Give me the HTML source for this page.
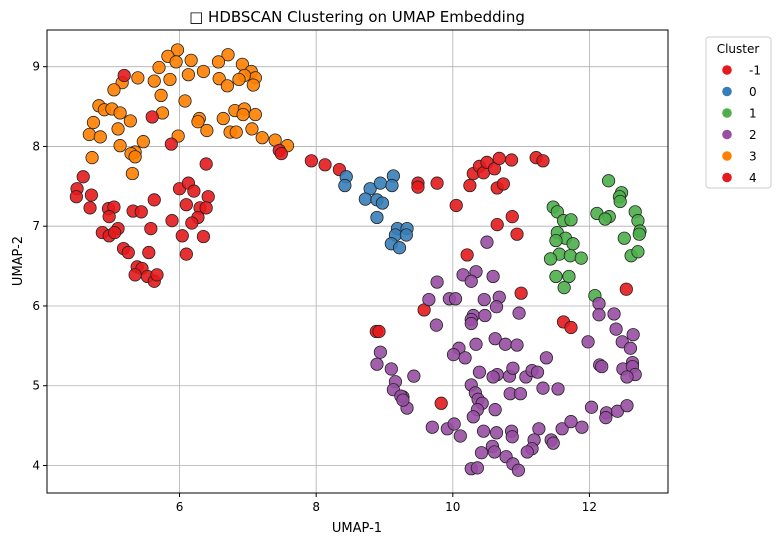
<!DOCTYPE html>
<html><head><meta charset="utf-8">
<style>
html,body{margin:0;padding:0;background:#fff;}
svg{display:block;font-family:"DejaVu Sans","Liberation Sans","Noto Sans CJK SC",sans-serif;}
</style></head>
<body>
<svg id="chart" width="779" height="545" viewBox="0 0 779 545">
<text x="357" y="22" text-anchor="middle" font-size="15">□ HDBSCAN Clustering on UMAP Embedding</text>
<g id="grid"></g>
<g id="pts"></g>
<rect x="47" y="30" width="621" height="463" fill="none" stroke="#000" stroke-width="1"/>
<g id="axes"></g>
<text x="357" y="532" text-anchor="middle" font-size="13">UMAP-1</text>
<text x="0" y="0" transform="translate(22,261) rotate(-90)" text-anchor="middle" font-size="13">UMAP-2</text>
<g id="legend"></g>
</svg>
<script>
const clusterLabels = ["-1","0","1","2","3","4"];
const clusterColors = ["#e41a1c","#377eb8","#4daf4a","#984ea3","#ff7f00","#e41a1c"];
const xTicks = [6,8,10,12];
const yTicks = [4,5,6,7,8,9];
const orangeX=[5.97,5.83,5.95,6.17,6.71,6.57,6.92,7.05,7.11,7.08,6.95,6.87,6.58,6.70,6.35,6.13,5.86,5.63,5.70,5.39,5.16,5.04,5.73,6.08,5.75,4.82,4.90,5.01,5.13,5.28,4.74,4.68,4.84,5.10,5.13,5.47,5.35,5.29,5.35,4.72,5.31,5.98,6.29,6.27,6.40,6.64,6.81,6.95,6.93,7.11,6.74,6.83,7.06,7.21,7.40,7.58];
const orangeY=[9.21,9.13,9.06,9.08,9.15,9.06,9.03,8.94,8.86,8.77,8.89,8.84,8.85,8.76,8.94,8.90,8.84,8.82,8.99,8.86,8.80,8.71,8.64,8.57,8.42,8.51,8.46,8.47,8.42,8.32,8.30,8.15,8.12,8.22,8.01,8.06,7.93,7.91,7.87,7.86,7.66,8.13,8.35,8.31,8.20,8.35,8.45,8.47,8.40,8.40,8.18,8.18,8.22,8.11,8.08,8.01];
const redX=[5.19,5.60,5.88,7.46,7.49,7.93,6.39,4.59,4.50,4.49,4.71,4.69,4.96,5.04,4.97,5.32,5.44,5.63,6.00,6.13,6.21,6.42,6.10,6.30,6.39,6.27,6.18,5.89,5.58,5.10,4.87,4.97,5.05,6.04,6.35,5.18,5.25,5.55,6.10,5.38,5.45,5.35,5.53,5.63,5.67,8.13,8.34,9.49,9.49,9.77,10.05,10.25,10.30,10.39,10.45,10.50,10.61,10.68,10.86,10.65,10.74,11.22,11.32,10.87,10.65,10.94,10.21,11.00,12.54,11.62,11.73,9.58,8.88,8.92,9.83];
const redY=[8.89,8.37,8.03,7.95,7.91,7.82,7.78,7.62,7.47,7.37,7.39,7.23,7.22,7.24,7.12,7.19,7.18,7.33,7.47,7.54,7.44,7.37,7.27,7.23,7.23,7.11,7.04,7.07,6.97,6.97,6.92,6.88,6.92,6.88,6.87,6.72,6.67,6.67,6.65,6.49,6.47,6.39,6.37,6.31,6.39,7.77,7.71,7.54,7.49,7.54,7.26,7.51,7.66,7.75,7.67,7.80,7.72,7.85,7.83,7.48,7.53,7.86,7.82,7.12,7.02,6.90,6.64,6.16,6.21,5.80,5.73,5.95,5.68,5.68,4.78];
const blueX=[8.44,8.42,8.79,8.94,9.13,9.11,8.72,8.89,8.97,8.89,9.19,9.33,9.16,9.32,9.10,9.22];
const blueY=[7.62,7.51,7.47,7.54,7.63,7.51,7.34,7.33,7.29,7.11,6.97,6.97,6.89,6.89,6.78,6.73];
const greenX=[12.28,12.47,12.44,12.45,11.47,11.53,12.11,12.29,12.23,12.67,12.71,12.74,12.73,11.62,11.73,11.53,11.65,11.51,11.76,12.51,11.56,11.72,11.88,11.43,12.61,12.71,11.51,11.70,11.63,12.08];
const greenY=[7.57,7.42,7.37,7.31,7.24,7.18,7.16,7.12,7.09,7.18,7.07,6.94,6.90,7.07,7.08,6.92,6.85,6.82,6.78,6.85,6.65,6.63,6.60,6.59,6.63,6.68,6.37,6.37,6.23,6.13];
const purpleX=[10.50,10.15,10.34,10.27,10.59,9.77,9.65,9.95,10.04,10.46,10.68,10.64,10.97,10.30,10.27,10.27,10.47,9.76,10.34,10.62,10.77,10.94,10.09,10.01,10.18,11.37,11.98,12.14,12.14,12.36,12.39,12.48,12.64,12.60,12.15,12.18,12.63,12.49,12.63,12.67,12.55,9.43,10.39,10.65,10.59,10.83,10.88,11.07,11.16,11.24,11.32,11.54,10.27,10.33,10.37,10.43,10.36,10.30,10.62,10.84,10.99,9.27,9.33,12.03,12.25,12.24,12.41,12.55,9.70,9.92,10.02,10.11,10.45,10.64,10.86,10.87,11.26,11.60,11.73,11.89,11.19,11.16,11.09,11.44,11.47,10.58,10.61,10.42,10.78,10.88,10.96,10.27,10.36,8.94,8.89,9.10,9.16,9.13,9.24,9.27];
const purpleY=[6.80,6.39,6.43,6.31,6.37,6.30,6.08,6.09,6.09,6.08,6.11,5.99,5.91,5.88,5.83,5.78,5.88,5.76,5.52,5.59,5.52,5.51,5.47,5.39,5.35,5.35,5.55,6.03,5.89,5.90,5.71,5.55,5.64,5.47,5.26,5.24,5.29,5.21,5.24,5.14,5.11,5.12,5.17,5.14,5.11,5.12,5.22,5.11,5.19,5.17,4.97,4.96,5.01,4.91,4.83,4.78,4.70,4.61,4.70,4.90,4.90,4.86,4.72,4.73,4.66,4.60,4.68,4.75,4.48,4.46,4.52,4.37,4.43,4.41,4.43,4.36,4.46,4.46,4.55,4.48,4.32,4.21,4.17,4.32,4.28,4.24,4.17,4.16,4.11,4.02,3.94,3.96,3.97,5.42,5.27,5.21,5.05,4.95,4.87,4.82];

const NS="http://www.w3.org/2000/svg";
const L=47,R=668,T=30,B=493;
const xMin=4.06,xMax=13.15,yMin=3.655,yMax=9.46;
function sx(v){return L+(v-xMin)/(xMax-xMin)*(R-L);}
function sy(v){return B-(v-yMin)/(yMax-yMin)*(B-T);}
function mk(tag,attrs,parent){const e=document.createElementNS(NS,tag);for(const k in attrs)e.setAttribute(k,attrs[k]);parent.appendChild(e);return e;}
const grid=document.getElementById('grid'),axes=document.getElementById('axes'),pts=document.getElementById('pts'),leg=document.getElementById('legend');
xTicks.forEach(t=>{const x=sx(t);
 const g=mk('line',{x1:x,x2:x,y1:T,y2:B,stroke:'#b0b0b0','stroke-width':0.8},grid);
 
 
 const tk=mk('line',{x1:x,x2:x,y1:B,y2:B+4,stroke:'#000'},axes);
 
 
 const tx=mk('text',{x:x,y:B+18,'text-anchor':'middle','font-size':12},axes);tx.textContent=t;
 
 
});
yTicks.forEach(t=>{const y=sy(t);
 const g=mk('line',{x1:L,x2:R,y1:y,y2:y,stroke:'#b0b0b0','stroke-width':0.8},grid);
 
 
 const tk=mk('line',{x1:L-4,x2:L,y1:y,y2:y,stroke:'#000'},axes);
 
 
 const tx=mk('text',{x:L-7,y:y+4,'text-anchor':'end','font-size':12},axes);tx.textContent=t;
 
 
});
function drawSeries(xs,ys,color,name){
 for(let i=0;i<xs.length;i++){
  const c=mk('circle',{cx:sx(xs[i]),cy:sy(ys[i]),r:6.2,fill:color,'fill-opacity':0.9,stroke:'#222','stroke-width':0.8},pts);
  
  
 }
}
drawSeries(orangeX,orangeY,clusterColors[4],'point-cluster-3');
drawSeries(redX,redY,clusterColors[0],'point-cluster-noise');
drawSeries(blueX,blueY,clusterColors[1],'point-cluster-0');
drawSeries(greenX,greenY,clusterColors[2],'point-cluster-1');
drawSeries(purpleX,purpleY,clusterColors[3],'point-cluster-2');
const box=mk('rect',{x:706,y:37,width:65,height:151,rx:3,fill:'#fff',stroke:'#ccc'},leg);


const lt=mk('text',{x:738,y:53,'text-anchor':'middle','font-size':12},leg);lt.textContent='Cluster';


clusterLabels.forEach((lab,i)=>{const y=70+i*21.5;
 const c=mk('circle',{cx:727,cy:y,r:4.8,fill:clusterColors[i]},leg);
 
 
 const t=mk('text',{x:749,y:y+4.5,'font-size':12},leg);t.textContent=lab;
 
 
});
</script>
</body></html>
